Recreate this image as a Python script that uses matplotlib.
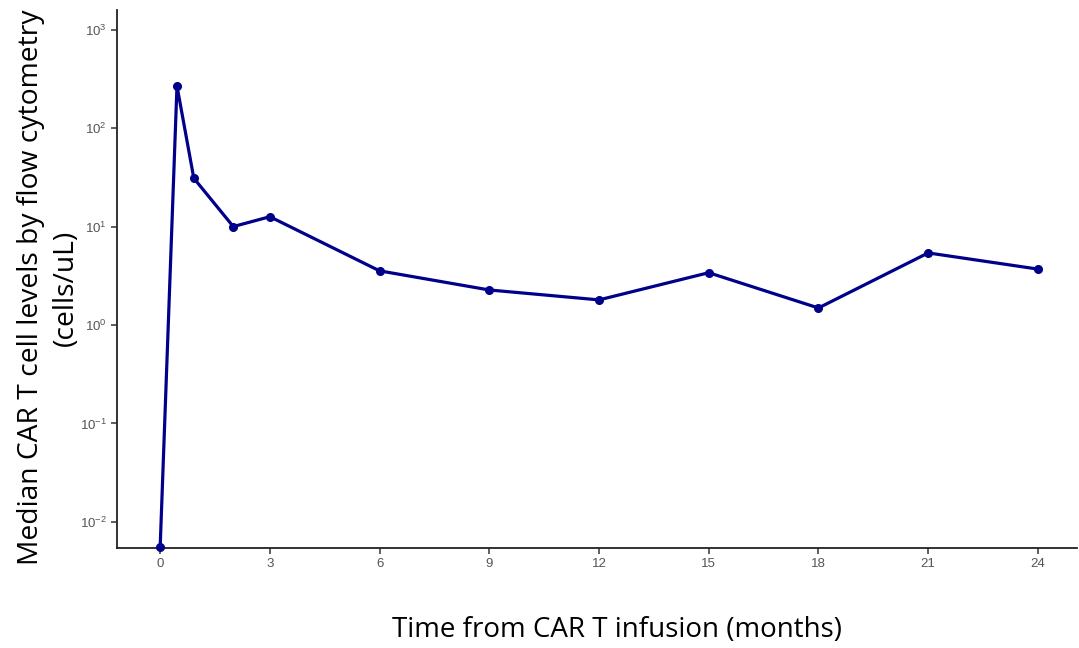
import matplotlib
matplotlib.use('Agg')
import matplotlib.pyplot as plt
from matplotlib.ticker import FixedLocator, NullLocator

plt.rcParams['mathtext.fontset'] = 'custom'
plt.rcParams['mathtext.rm'] = 'Liberation Sans'
plt.rcParams['mathtext.it'] = 'Liberation Sans:italic'
plt.rcParams['mathtext.bf'] = 'Liberation Sans:bold'

# months after infusion, median CAR T cells/uL
months = [0, 0.46, 0.92, 2, 3, 6, 9, 12, 15, 18, 21, 24]
cells = [0.0055, 268, 31, 10, 12.6, 3.55, 2.27, 1.8, 3.4, 1.49, 5.4, 3.7]
xticks = [0, 3, 6, 9, 12, 15, 18, 21, 24]
yticks = [1e-2, 1e-1, 1e0, 1e1, 1e2, 1e3]
ytick_labels = ['$10^{-2}$', '$10^{-1}$', '$10^{0}$', '$10^{1}$', '$10^{2}$', '$10^{3}$']

fig = plt.figure(figsize=(10.79, 6.48), dpi=100)
ax = fig.add_axes([117 / 1079, 1 - 548 / 648, 960 / 1079, 538 / 648])

ax.plot(months, cells, color='#00008b', linewidth=2.3, marker='o',
        markersize=5.5, clip_on=False, zorder=3)

ax.set_yscale('log')
ax.set_ylim(10 ** -2.265, 10 ** 3.2)
ax.set_xlim(-1.18, 25.07)
ax.set_xticks(xticks)
ax.set_xticklabels([str(t) for t in xticks], family='Liberation Sans')
ax.yaxis.set_major_locator(FixedLocator(yticks))
ax.yaxis.set_minor_locator(NullLocator())
ax.set_yticklabels(ytick_labels)

ax.spines['top'].set_visible(False)
ax.spines['right'].set_visible(False)
for s in ('left', 'bottom'):
    ax.spines[s].set_linewidth(1.3)
    ax.spines[s].set_color('#222222')

ax.tick_params(axis='both', colors='#333333', labelcolor='#555555',
               labelsize=9.5, length=4, width=1.1)

ax.set_xlabel('Time from CAR T infusion (months)', fontsize=20,
              family='Open Sans')
ax.xaxis.set_label_coords(0.521, -0.1264)
ax.set_ylabel('Median CAR T cell levels by flow cytometry\n(cells/uL)',
              fontsize=20.3, family='Open Sans', linespacing=1.35)
ax.yaxis.set_label_coords(-0.0385, 0.484)

fig.savefig('out.png', dpi=100)
